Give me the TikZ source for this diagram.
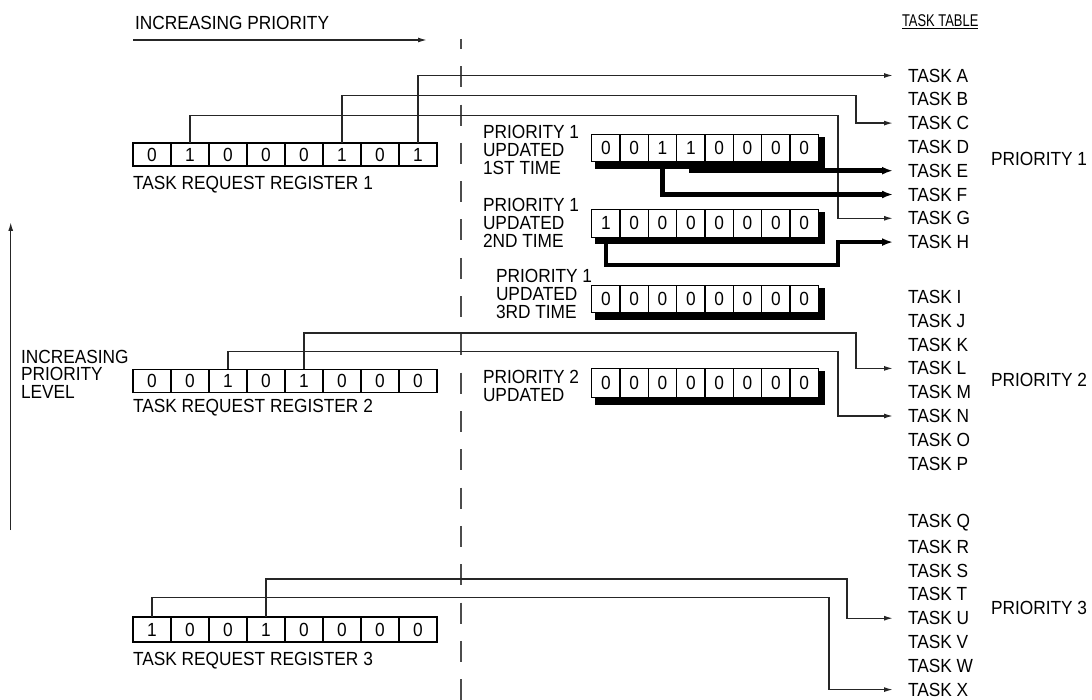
\documentclass[tikz,border=0pt]{standalone}
\usepackage{fontspec}
\setmainfont{Liberation Sans}[FakeStretch=0.91]
\newfontfamily\narrowfont{Liberation Sans}[FakeStretch=0.76]
\usetikzlibrary{arrows.meta,backgrounds,calc}
\newcommand{\bitrow}[6]{%
  \foreach \b [count=\k from 0] in {#6}{
    \node[cell, minimum width=#4pt, minimum height=#5pt] (#1c\k) at ({#2+(\k+0.5)*#4}, #3) {\b};
  }}
\begin{document}
\begin{tikzpicture}[x=1pt,y=-1pt,
  every node/.style={font=\fontsize{19pt}{22pt}\selectfont, inner sep=0pt, outer sep=0pt},
  cell/.style={draw, line width=1.2pt, fill=white, anchor=center},
  task/.style={anchor=west, inner xsep=15pt},
  lbl/.style={anchor=west},
  upd/.style={anchor=west, align=left, font=\fontsize{19pt}{17.8pt}\selectfont},
  conn/.style={line width=1.4pt, draw=black!85, -{Latex[length=9pt,width=5pt]}},
  heavy/.style={line width=4.5pt, -{Latex[length=11pt,width=8pt]}},
  divider/.style={line width=2pt, draw=black!70, dash pattern=on 21pt off 17.3pt, dash phase=11pt}]
\useasboundingbox (0,0) rectangle (1092,700);

% headings
\node[lbl] (inc) at (135,23) {INCREASING PRIORITY};
\coordinate (ipa) at (133,40);
\coordinate (ipb) at (427,40);
\draw[conn] (ipa) -- (ipb);
\node[lbl, font=\narrowfont\fontsize{17pt}{19pt}\selectfont] (tt) at (902,22) {\underline{TASK TABLE}};

% dashed divider
\coordinate (dva) at (461,39);
\coordinate (dvb) at (461,700);
\draw[divider] (dva) -- (dvb);

% left arrow
\coordinate (lva) at (10.7,530);
\coordinate (lvb) at (10.7,222);
\draw[conn] (lva) -- (lvb);
\node[lbl, align=left, font=\fontsize{19pt}{17.5pt}\selectfont] (ipl) at (21,374) {INCREASING\\PRIORITY\\LEVEL};

% task request registers
\bitrow{ra}{133}{154.5}{38}{23}{0,1,0,0,0,1,0,1}
\bitrow{rb}{133}{381}{38}{23}{0,0,1,0,1,0,0,0}
\bitrow{rc}{133}{629.5}{38}{25}{1,0,0,1,0,0,0,0}
\node[lbl] (rla) at (133,185) {TASK REQUEST REGISTER 1};
\node[lbl] (rlb) at (133,407.5) {TASK REQUEST REGISTER 2};
\node[lbl] (rlc) at (133,661) {TASK REQUEST REGISTER 3};

% updated registers
\bitrow{ua}{591.7}{148}{28.33}{27.5}{0,0,1,1,0,0,0,0}
\bitrow{ub}{591.7}{223.3}{28.33}{28}{1,0,0,0,0,0,0,0}
\bitrow{uc}{591.7}{299}{28.33}{27.5}{0,0,0,0,0,0,0,0}
\bitrow{ud}{591.7}{383}{28.33}{29}{0,0,0,0,0,0,0,0}
\begin{pgfonlayer}{background}
  \foreach \r in {ua,ub,uc,ud}{
    \fill ($(\r c0.north west)+(3.5,2.5)$) rectangle ($(\r c7.south east)+(7,7)$);
  }
\end{pgfonlayer}
\node[upd] (ula) at (483,150) {PRIORITY 1\\UPDATED\\1ST TIME};
\node[upd] (ulb) at (483,223) {PRIORITY 1\\UPDATED\\2ND TIME};
\node[upd] (ulc) at (496,294) {PRIORITY 1\\UPDATED\\3RD TIME};
\node[upd] (uld) at (483,386) {PRIORITY 2\\UPDATED};

% task table
\foreach \t [count=\k from 0] in {A,B,C,D,E,F,G,H}{
  \node[task] (t\t) at (893,{75.5+23.8*\k}) {TASK \t};}
\foreach \t [count=\k from 0] in {I,J,K,L,M,N,O,P}{
  \node[task] (t\t) at (893,{297+23.8*\k}) {TASK \t};}
\foreach \t [count=\k from 0] in {Q,R,S,T,U,V,W,X}{
  \node[task] (t\t) at (893,{523+23.8*\k}) {TASK \t};}
\node[lbl] (pa) at (991,158.8) {PRIORITY 1};
\node[lbl] (pb) at (991,380) {PRIORITY 2};
\node[lbl] (pc) at (991,608) {PRIORITY 3};

% connectors from request registers
\draw[conn] (rac7.north) |- (tA.west);
\draw[conn] (rac5.north) |- (856,95.5) |- (tC.west);
\draw[conn] (rac1.north) |- (838,115.5) |- (tG.west);
\draw[conn] (rbc4.north) |- (856,333) |- (tL.west);
\draw[conn] (rbc2.north) |- (838,351.5) |- (tN.west);
\draw[conn] (rcc3.north) |- (847,579) |- (tU.west);
\draw[conn] (rcc0.north) |- (829,597.5) |- (tX.west);

% connectors from updated registers
\draw[heavy] (uac3.south) |- (tE.west);
\draw[heavy] (uac2.south) |- (tF.west);
\draw[heavy] (ubc0.south) |- (838,265) |- (tH.west);
\end{tikzpicture}
\end{document}
